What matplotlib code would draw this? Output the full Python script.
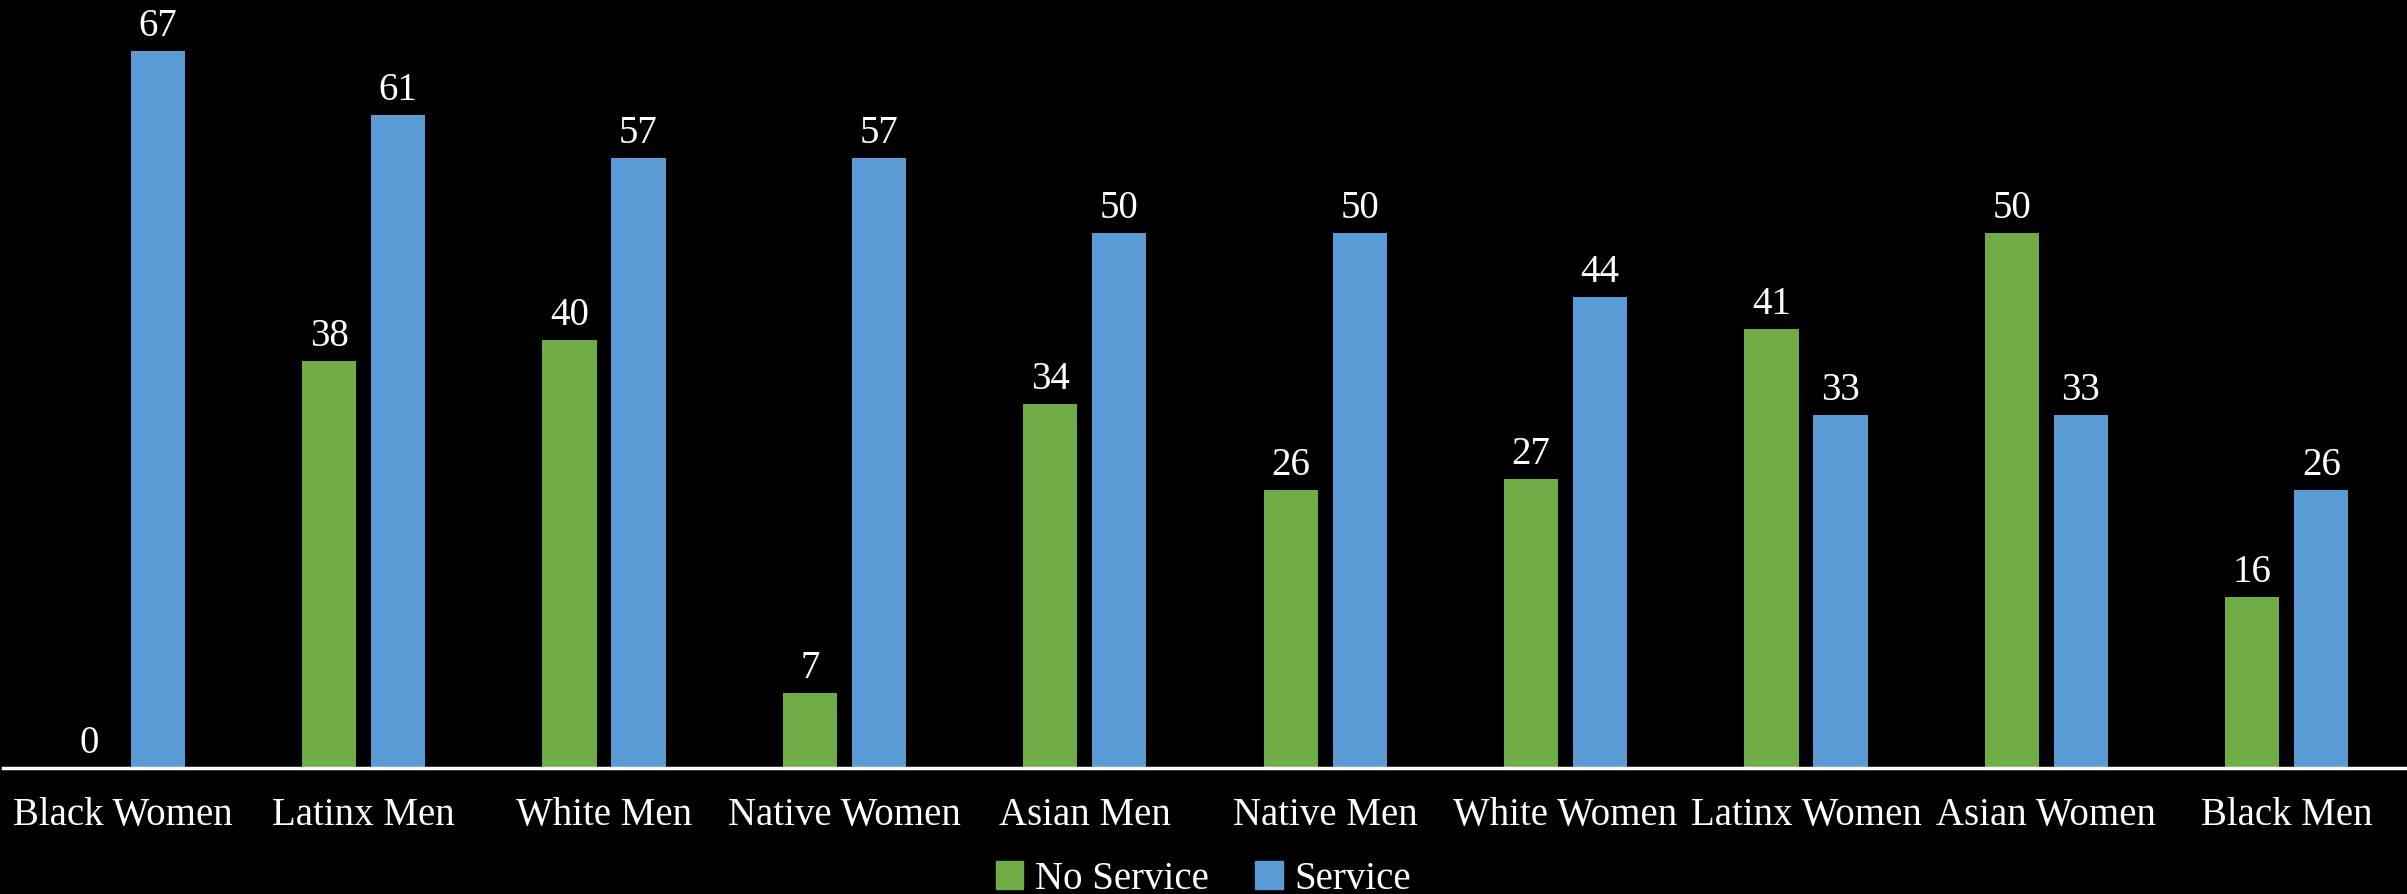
import numpy as np
import matplotlib.pyplot as plt
from matplotlib.patches import Patch

# Data
groups = ['Black Women', 'Latinx Men', 'White Men', 'Native Women', 'Asian Men',
          'Native Men', 'White Women', 'Latinx Women', 'Asian Women', 'Black Men']
no_service = [0, 38, 40, 7, 34, 26, 27, 41, 50, 16]
service = [67, 61, 57, 57, 50, 50, 44, 33, 33, 26]

green = '#70AD47'
blue = '#5B9BD5'

plt.rcParams['font.family'] = ['Liberation Serif', 'DejaVu Serif']

fig = plt.figure(figsize=(24.07, 8.95), dpi=100, facecolor='black')
ax = fig.add_axes([3 / 2407, (895 - 769) / 895, 2404 / 2407, (769 - 20) / 895])
ax.set_facecolor('black')

x = np.arange(len(groups))
w = 0.225
off = 0.1435
b1 = ax.bar(x - off, no_service, w, color=green)
b2 = ax.bar(x + off, service, w, color=blue)

for bars in (b1, b2):
    for rect in bars:
        h = rect.get_height()
        ax.annotate(str(int(h)), (rect.get_x() + rect.get_width() / 2, h),
                    xytext=(0, 5), textcoords='offset points',
                    ha='center', va='bottom', color='white', fontsize=28)

ax.set_xlim(-0.5, len(groups) - 0.5)
ax.set_ylim(0, 70)
ax.set_xticks(x)
ax.set_xticklabels(groups, color='white', fontsize=28)
ax.tick_params(axis='x', length=0, pad=20)
ax.set_yticks([])
for s in ['top', 'right', 'left']:
    ax.spines[s].set_visible(False)
ax.spines['bottom'].set_color('white')
ax.spines['bottom'].set_linewidth(2.5)

handles = [Patch(color=green, label='No Service'), Patch(color=blue, label='Service')]
leg = fig.legend(handles=handles, loc='center', bbox_to_anchor=(0.5, 1 - 880 / 895),
                 ncol=2, frameon=False, fontsize=28, handlelength=0.7, handleheight=0.7,
                 handletextpad=0.3, columnspacing=1.2)
for t in leg.get_texts():
    t.set_color('white')

fig.savefig('out.png', facecolor='black')
